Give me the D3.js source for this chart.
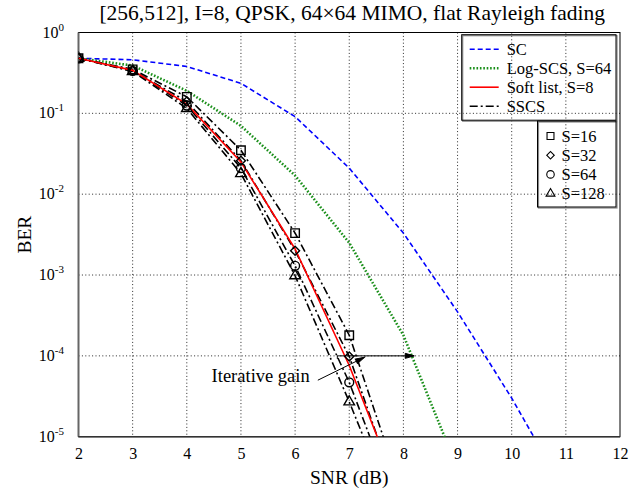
<!DOCTYPE html>
<html>
<head>
<meta charset="utf-8">
<script src="https://cdn.jsdelivr.net/npm/d3@7"></script>
<style>
  body { margin: 0; background: #fff; }
  svg { display: block; font-family: "Liberation Serif", "Times New Roman", serif; }
</style>
</head>
<body>
<div id="chart"></div>
<script>
// Data (BER vs SNR, integer SNR points)
const SNR = [2, 3, 4, 5, 6, 7, 8, 9, 10, 11];
const SNR_TICKS = [2, 3, 4, 5, 6, 7, 8, 9, 10, 11, 12];
const BER_TICKS = [1, 1e-1, 1e-2, 1e-3, 1e-4, 1e-5];
const BER_EXPONENTS = ['0', '-1', '-2', '-3', '-4', '-5'];

const scBer      = [0.48, 0.46, 0.38, 0.235, 0.091, 0.021, 0.0033, 3.5e-4, 3.0e-5, 2e-6];
const logScsBer  = [0.48, 0.39, 0.19, 0.07, 0.017, 0.0025, 1.8e-4, 4e-6];
const softBer    = [0.48, 0.34, 0.13, 0.025, 0.0021, 7.6e-5, 1.5e-6];
const sscs16Ber  = [0.48, 0.35, 0.16, 0.035, 0.0033, 1.8e-4, 1.8e-6];
const sscs32Ber  = [0.48, 0.34, 0.14, 0.026, 0.002, 9.8e-5, 1.2e-6];
const sscs64Ber  = [0.48, 0.335, 0.125, 0.021, 0.0013, 4.7e-5, 8e-7];
const sscs128Ber = [0.48, 0.33, 0.115, 0.018, 9.8e-4, 2.7e-5, 6e-7];

const LINE_LABELS = ['SC', 'Log-SCS, S=64', 'Soft list, S=8', 'SSCS'];
const MARKER_LABELS = ['S=16', 'S=32', 'S=64', 'S=128'];

// Layout
const W = 643, H = 490;
const MARGIN = { top: 32.5, right: 23, bottom: 53.3, left: 78.5 };
const COLORS = { sc: '#0000ff', logScs: '#1a8f1a', soft: '#ff0000', sscs: '#000000' };

const svg = d3.select('#chart').append('svg')
    .attr('width', W)
    .attr('height', H);

const x = d3.scaleLinear().domain([2, 12]).range([MARGIN.left, W - MARGIN.right]);
const y = d3.scaleLog().domain([1e-5, 1]).range([H - MARGIN.bottom, MARGIN.top]);

const x0 = x.range()[0], x1 = x.range()[1];
const yTop = y.range()[1], yBot = y.range()[0];

svg.append('defs').append('clipPath').attr('id', 'plot-clip')
    .append('rect')
    .attr('x', x0).attr('y', yTop)
    .attr('width', x1 - x0).attr('height', yBot - yTop);

// Grid
const grid = svg.append('g').attr('stroke', '#111').attr('stroke-width', 0.9)
    .attr('stroke-dasharray', '1,2.4');
grid.selectAll('.vgrid').data(SNR_TICKS.slice(1, -1)).enter().append('line')
    .attr('x1', d => x(d)).attr('x2', d => x(d))
    .attr('y1', yTop).attr('y2', yBot);
grid.selectAll('.hgrid').data(BER_TICKS.slice(1, -1)).enter().append('line')
    .attr('x1', x0).attr('x2', x1)
    .attr('y1', d => y(d)).attr('y2', d => y(d));

// Axes (labels only, MATLAB-like)
svg.append('g')
    .attr('transform', `translate(0,${yBot})`)
    .call(d3.axisBottom(x).tickValues(SNR_TICKS).tickSize(0).tickPadding(11))
    .call(g => g.select('.domain').remove())
    .call(g => g.selectAll('text').attr('font-size', 16).attr('fill', '#000')
        .style('font-family', '"Liberation Serif", serif'));

const yLab = svg.append('g');
BER_TICKS.forEach((t, i) => {
    const txt = yLab.append('text')
        .attr('x', 64).attr('y', y(t) + 5)
        .attr('text-anchor', 'end')
        .attr('font-size', 16);
    txt.append('tspan').text('10');
    txt.append('tspan').attr('dy', -7).attr('font-size', 11).text(BER_EXPONENTS[i]);
});

// Frame
svg.append('rect')
    .attr('x', x0).attr('y', yTop)
    .attr('width', x1 - x0).attr('height', yBot - yTop)
    .attr('fill', 'none').attr('stroke', '#000').attr('stroke-width', 1);
svg.append('line').attr('x1', x0).attr('x2', x0).attr('y1', yTop).attr('y2', yBot)
    .attr('stroke', '#666').attr('stroke-width', 2);
svg.append('line').attr('x1', x0).attr('x2', x1).attr('y1', yBot).attr('y2', yBot)
    .attr('stroke', '#333').attr('stroke-width', 1.6);

// Titles
svg.append('text')
    .attr('x', (x0 + x1) / 2 + 3).attr('y', 20)
    .attr('text-anchor', 'middle').attr('font-size', 21.5)
    .text('[256,512], I=8, QPSK, 64\u00d764 MIMO, flat Rayleigh fading');

svg.append('text')
    .attr('x', (x0 + x1) / 2).attr('y', 484)
    .attr('text-anchor', 'middle').attr('font-size', 19.5)
    .text('SNR (dB)');

svg.append('text')
    .attr('transform', `translate(31,${(yTop + yBot) / 2}) rotate(-90)`)
    .attr('text-anchor', 'middle').attr('font-size', 19.5)
    .text('BER');

// Curves
const plot = svg.append('g').attr('clip-path', 'url(#plot-clip)');
const line = d3.line().x((d, i) => x(SNR[i])).y(d => y(d));

const curves = [
    { data: scBer, color: COLORS.sc, width: 1.6, dash: '5,3' },
    { data: logScsBer, color: COLORS.logScs, width: 2.6, dash: '1.6,1.8' },
    { data: sscs16Ber, color: COLORS.sscs, width: 1.6, dash: '8,3,2,3' },
    { data: sscs32Ber, color: COLORS.sscs, width: 1.6, dash: '8,3,2,3' },
    { data: sscs64Ber, color: COLORS.sscs, width: 1.6, dash: '8,3,2,3' },
    { data: sscs128Ber, color: COLORS.sscs, width: 1.6, dash: '8,3,2,3' },
    { data: softBer, color: COLORS.soft, width: 1.6, dash: null }
];

curves.forEach(c => {
    plot.append('path')
        .datum(c.data)
        .attr('d', line)
        .attr('fill', 'none')
        .attr('stroke', c.color)
        .attr('stroke-width', c.width)
        .attr('stroke-dasharray', c.dash);
});

// Marker shapes (diamond = square turned 45 degrees, as in MATLAB)
const symSquare = d3.symbol().type(d3.symbolSquare).size(72);
const symDiamond = d3.symbol().type(d3.symbolSquare).size(40);
const symCircle = d3.symbol().type(d3.symbolCircle).size(62);
const symTriangle = d3.symbol().type(d3.symbolTriangle).size(48);
const markerSets = [
    { data: sscs16Ber, sym: symSquare, rot: 0 },
    { data: sscs32Ber, sym: symDiamond, rot: 45 },
    { data: sscs64Ber, sym: symCircle, rot: 0 },
    { data: sscs128Ber, sym: symTriangle, rot: 0 }
];

markerSets.forEach(m => {
    plot.selectAll(null)
        .data(m.data)
        .enter().append('path')
        .attr('d', m.sym())
        .attr('transform', (d, i) => `translate(${x(SNR[i])},${y(d)}) rotate(${m.rot})`)
        .attr('fill', 'none')
        .attr('stroke', '#000')
        .attr('stroke-width', 1.4);
});

// Annotations
const ann = svg.append('g').attr('stroke', '#000').attr('stroke-width', 1).attr('fill', 'none');
// horizontal gain arrow at BER 1e-4
const gainY = y(1e-4);
ann.append('line').attr('x1', x(6.78)).attr('x2', x(8.2)).attr('y1', gainY).attr('y2', gainY);
ann.append('line').attr('x1', x(6.78)).attr('x2', x(6.78)).attr('y1', gainY).attr('y2', gainY + 3);
ann.append('path')
    .attr('d', `M${x(8.2)},${gainY} l-9,-2.5 l0,5 Z`)
    .attr('fill', '#000');
// pointer from text
const p0 = [x(6.42), y(5.0e-5)], p1 = [x(7.28), y(9.6e-5)];
ann.append('line').attr('x1', p0[0]).attr('y1', p0[1]).attr('x2', p1[0]).attr('y2', p1[1]);
const ang = Math.atan2(p1[1] - p0[1], p1[0] - p0[0]) * 180 / Math.PI;
ann.append('path')
    .attr('d', 'M0,0 l-9,-2.5 l0,5 Z')
    .attr('transform', `translate(${p1[0]},${p1[1]}) rotate(${ang})`)
    .attr('fill', '#000');

svg.append('text')
    .attr('x', x(6.27)).attr('y', y(5.0e-5) + 2)
    .attr('text-anchor', 'end').attr('font-size', 18.5)
    .text('Iterative gain');

// Legend 1: line styles
const leg1 = { x: 461.7, y: 34.7, w: 154.3, h: 85.5 };
const legend1 = svg.append('g');
legend1.append('rect')
    .attr('x', leg1.x + 1).attr('y', leg1.y + 1).attr('width', leg1.w).attr('height', leg1.h)
    .attr('fill', 'none').attr('stroke', '#888').attr('stroke-width', 1.2);
legend1.append('rect')
    .attr('x', leg1.x).attr('y', leg1.y).attr('width', leg1.w).attr('height', leg1.h)
    .attr('fill', 'none').attr('stroke', '#000').attr('stroke-width', 1);
const legStyles = [curves[0], curves[1], curves[6], curves[2]];
LINE_LABELS.forEach((lab, i) => {
    const cy = leg1.y + 14.5 + i * 19;
    legend1.append('line')
        .attr('x1', leg1.x + 8).attr('x2', leg1.x + 37)
        .attr('y1', cy).attr('y2', cy)
        .attr('stroke', legStyles[i].color)
        .attr('stroke-width', legStyles[i].width)
        .attr('stroke-dasharray', legStyles[i].dash);
    legend1.append('text')
        .attr('x', leg1.x + 45).attr('y', cy + 5.5)
        .attr('font-size', 16.5)
        .text(lab);
});

// Legend 2: markers
const leg2 = { x: 537.5, y: 121, w: 78.5, h: 86 };
const legend2 = svg.append('g');
legend2.append('rect')
    .attr('x', leg2.x + 1).attr('y', leg2.y + 1).attr('width', leg2.w).attr('height', leg2.h)
    .attr('fill', 'none').attr('stroke', '#888').attr('stroke-width', 1.2);
legend2.append('rect')
    .attr('x', leg2.x).attr('y', leg2.y).attr('width', leg2.w).attr('height', leg2.h)
    .attr('fill', 'none').attr('stroke', '#000').attr('stroke-width', 1);
const legSyms = [
    { sym: d3.symbol().type(d3.symbolSquare).size(48), rot: 0 },
    { sym: d3.symbol().type(d3.symbolSquare).size(28), rot: 45 },
    { sym: d3.symbol().type(d3.symbolCircle).size(44), rot: 0 },
    { sym: d3.symbol().type(d3.symbolTriangle).size(34), rot: 0 }
];
MARKER_LABELS.forEach((lab, i) => {
    const cy = leg2.y + 15 + i * 19.2;
    legend2.append('path')
        .attr('d', legSyms[i].sym())
        .attr('transform', `translate(${leg2.x + 13},${cy}) rotate(${legSyms[i].rot})`)
        .attr('fill', 'none').attr('stroke', '#000').attr('stroke-width', 1.1);
    legend2.append('text')
        .attr('x', leg2.x + 24).attr('y', cy + 5.5)
        .attr('font-size', 16.5)
        .text(lab);
});
</script>
</body>
</html>
